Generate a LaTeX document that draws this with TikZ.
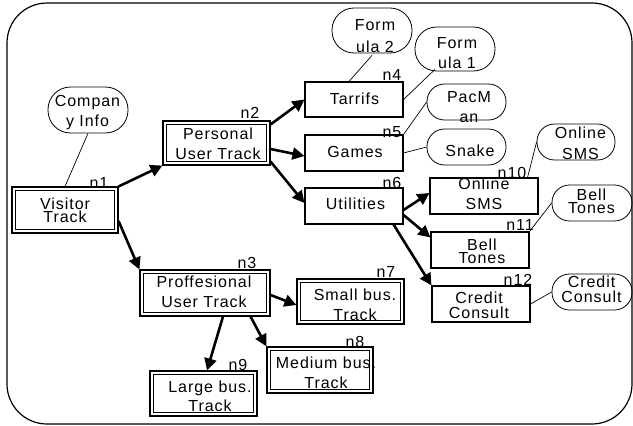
\documentclass[tikz,border=0pt]{standalone}
\usepackage{fontspec}
\setmainfont[LetterSpace=6]{Liberation Sans}
\usetikzlibrary{arrows.meta,calc}
\begin{document}
\begin{tikzpicture}[x=1pt,y=-1pt,
  txt/.style={inner sep=0pt,anchor=base,align=center,font=\fontsize{16}{#1}\selectfont},
  txt/.default=20,
  lbl/.style={inner sep=0pt,anchor=base,font=\fontsize{16}{18}\selectfont},
  box/.style={draw,line width=1.1pt,inner sep=0pt,minimum width=#1},
  dbox/.style={draw,line width=1.1pt,inner sep=0pt},
  inbox/.style={line width=1.1pt},
  oval/.style={draw,line width=0.8pt,rounded corners=17.5pt,inner sep=0pt},
  arr/.style={line width=2.6pt,-{Triangle[length=12pt,width=12pt]}},
  conn/.style={line width=0.7pt}]
\useasboundingbox (0,0) rectangle (633,426);
\draw[line width=1.2pt,rounded corners=40pt] (7,3) rectangle (632,424);

% double boxes
\node[dbox,minimum width=106pt,minimum height=46pt] (n1) at (65,210) {};
\node[dbox,minimum width=107pt,minimum height=44pt] (n2) at (216.5,143) {};
\node[dbox,minimum width=130pt,minimum height=46pt] (n3) at (205,293) {};
\node[dbox,minimum width=107pt,minimum height=45pt] (n7) at (350.5,301.5) {};
\node[dbox,minimum width=106pt,minimum height=46pt] (n8) at (320,370) {};
\node[dbox,minimum width=107pt,minimum height=45pt] (n9) at (203.5,393.5) {};
\foreach \n in {n1,n2,n3,n7,n8,n9}
  \draw[inbox] ([shift={(4,4)}]\n.north west) rectangle ([shift={(-4,-4)}]\n.south east);
% single boxes
\node[box=98pt,minimum height=35pt] (n4) at (354,99.5) {};
\node[box=98pt,minimum height=36pt] (n5) at (354,153) {};
\node[box=98pt,minimum height=36pt] (n6) at (354,206) {};
\node[box=108pt,minimum height=36pt] (n10) at (484,196) {};
\node[box=98pt,minimum height=36pt] (n11) at (480,250) {};
\node[box=98pt,minimum height=36pt] (n12) at (481,304) {};
% ovals
\node[oval,minimum width=80pt,minimum height=46pt,rounded corners=22.5pt] (ci) at (88,110) {};
\node[oval,minimum width=80pt,minimum height=45pt,rounded corners=22pt] (f2) at (372,30.5) {};
\node[oval,minimum width=80pt,minimum height=44pt,rounded corners=21.5pt] (f1) at (455,49) {};
\node[oval,minimum width=79pt,minimum height=36pt] (pm) at (466.5,102) {};
\node[oval,minimum width=79pt,minimum height=36pt] (sn) at (466.5,147) {};
\node[oval,minimum width=78pt,minimum height=36pt] (os) at (576,142) {};
\node[oval,minimum width=80pt,minimum height=36pt] (bt) at (592,203) {};
\node[oval,minimum width=80pt,minimum height=36pt] (cc) at (592,292) {};

% texts (anchor = baseline of last line)
\node[txt=13] (t1) at (65,222) {Visitor\\Track};
\node[txt] (t2) at (218,159) {Personal\\User Track};
\node[txt] (t3) at (204,307) {Proffesional\\User Track};
\node[txt] (t7) at (355,320) {Small bus.\\Track};
\node[txt] (t8) at (326,388) {Medium bus.\\Track};
\node[txt=19] (t9) at (210,411) {Large bus.\\Track};
\node[txt] (t4) at (354.5,104) {Tarrifs};
\node[txt] (t5) at (355,157) {Games};
\node[txt] (t6) at (355.5,209) {Utilities};
\node[txt] (t10) at (484,209) {Online\\SMS};
\node[txt=10] (t11) at (482,263) {Bell\\Tones};
\node[txt=15] (t12) at (479,318) {Credit\\Consult};
\node[txt] (tci) at (87.5,126) {Compan\\y Info};
\node[txt=22] (tf2) at (375,52) {Form\\ula 2};
\node[txt] (tf1) at (457,68) {Form\\ula 1};
\node[txt] (tpm) at (469,122) {PacM\\an};
\node[txt] (tsn) at (470,156) {Snake};
\node[txt=21] (tos) at (580.5,159) {Online\\SMS};
\node[txt=10] (tbt) at (591.5,213) {Bell\\Tones};
\node[txt=15] (tcc) at (591.5,302) {Credit\\Consult};

% node labels
\node[lbl] (l1) at (99,188) {n1};
\node[lbl] (l2) at (250,118) {n2};
\node[lbl] (l3) at (247,268) {n3};
\node[lbl] (l4) at (392,80) {n4};
\node[lbl] (l5) at (392,137) {n5};
\node[lbl] (l6) at (392,188) {n6};
\node[lbl] (l7) at (386,277) {n7};
\node[lbl] (l8) at (355,347) {n8};
\node[lbl] (l9) at (238,370) {n9};
\node[lbl] (l10) at (512,178) {n10};
\node[lbl] (l11) at (520,230) {n11};
\node[lbl] (l12) at (518,285) {n12};

% arrows
\draw[arr] (n1.north east) -- (n2.south west);
\draw[arr] ($(n1.east)+(0,11)$) -- (n3.north west);
\draw[arr] ($(n2.north east)+(0,4)$) -- (n4.west);
\draw[arr] ($(n2.east)+(0,6)$) -- ($(n5.west)+(0,3)$);
\draw[arr] ($(n2.south east)+(0,-4)$) -- ($(n6.west)+(0,-3)$);
\draw[arr] ($(n6.east)+(0,4)$) -- ($(n10.west)+(0,-3)$);
\draw[arr] ($(n6.east)+(0,9)$) -- ($(n11.north west)+(0,6)$);
\draw[arr] ($(n6.south east)+(-10,0)$) -- (n12.north west);
\draw[arr] ($(n3.east)+(0,2)$) -- ($(n7.west)+(0,3.5)$);
\draw[arr] ($(n3.south east)+(-20,0)$) -- (n8.north west);
\draw[arr] ($(n3.south)+(18,0)$) -- ($(n9.north)+(3.5,0)$);

% thin connectors
\draw[conn] (ci.south) -- (n1.north);
\draw[conn] ($(f2.south)+(0,2)$) -- ($(n4.north)+(-5,0)$);
\draw[conn] ($(f1.south)+(-20,-2)$) -- (n4.east);
\draw[conn] (pm.west) -- (n5.north east);
\draw[conn] (sn.west) -- (n5.east);
\draw[conn] (os.west) -- ($(n10.north east)+(-11,0)$);
\draw[conn] (bt.west) -- (n11.north east);
\draw[conn] (cc.west) -- (n12.east);
\end{tikzpicture}
\end{document}
